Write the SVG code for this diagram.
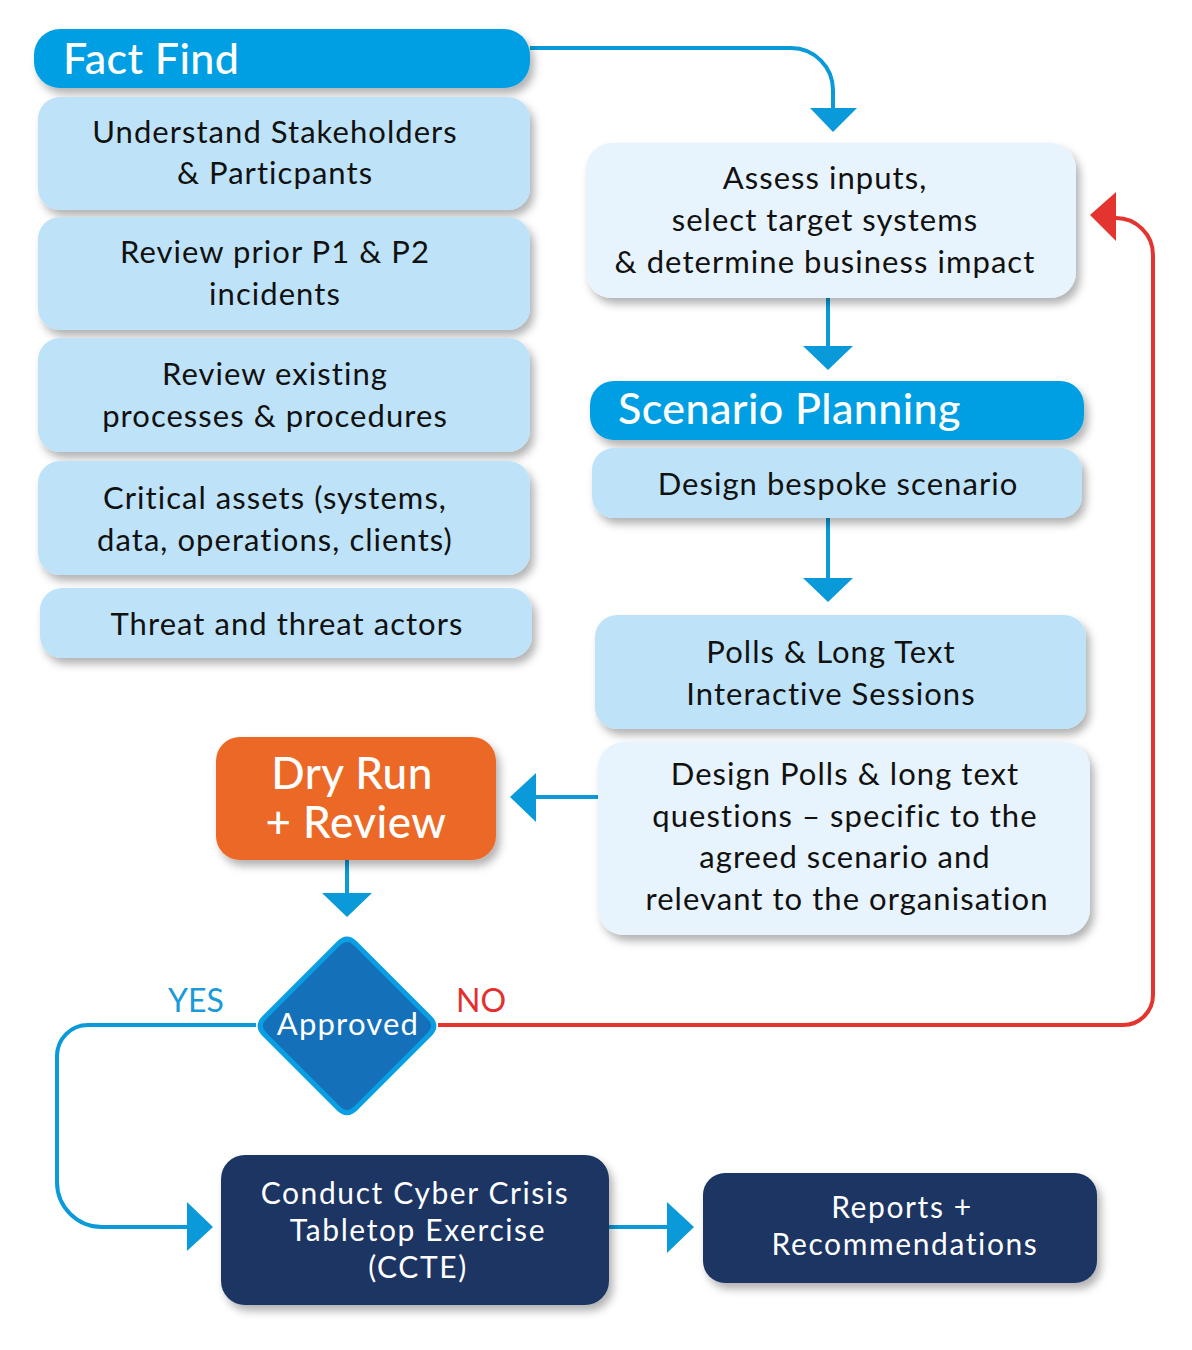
<svg xmlns="http://www.w3.org/2000/svg" width="1192" height="1350" viewBox="0 0 1192 1350">
<defs>
<filter id="sh" x="-10%" y="-20%" width="125%" height="150%">
<feDropShadow dx="4" dy="6" stdDeviation="4" flood-color="#000" flood-opacity="0.3"/>
</filter>
</defs>
<style>
text{font-family:Lato,"Open Sans","Liberation Sans",sans-serif;}
.hdr{fill:#009fe3;filter:url(#sh);}
.lb{fill:#bee3f8;filter:url(#sh);}
.vl{fill:#e8f4fd;filter:url(#sh);}
.nv{fill:#1d3562;filter:url(#sh);}
.ht{fill:#fff;font-size:43px;font-weight:500;letter-spacing:0.4px;}
.bt{fill:#111;font-size:31px;letter-spacing:1.05px;text-anchor:middle;}
.wt{fill:#fff;font-size:30px;letter-spacing:1.6px;text-anchor:middle;}
.dr{fill:#fff;font-size:44px;font-weight:500;letter-spacing:0.5px;text-anchor:middle;}
.ap{fill:#fff;font-size:31px;letter-spacing:1.2px;text-anchor:middle;}
.lbl{font-size:32px;text-anchor:middle;}
.cb{fill:none;stroke:#0a9ad9;stroke-width:4;}
.cr{fill:none;stroke:#e3342f;stroke-width:4;}
.ab{fill:#0a9ad9;}
.ar{fill:#e3342f;}
</style>
<rect width="1192" height="1350" fill="#fff"/>

<g id="connectors">
<path class="cb" d="M 530 48 H 791 A 42 42 0 0 1 833 90 V 110"/>
<polygon class="ab" points="810,108 857,108 833,132"/>
<path class="cb" d="M 828 298 V 348"/>
<polygon class="ab" points="803,346 853,346 828,370"/>
<path class="cb" d="M 828 518 V 580"/>
<polygon class="ab" points="803,578 853,578 828,602"/>
<path class="cb" d="M 598 797 H 534"/>
<polygon class="ab" points="536,773 536,822 510,797"/>
<path class="cb" d="M 347 860 V 895"/>
<polygon class="ab" points="322,893 372,893 347,917"/>
<path class="cb" d="M 256 1025 H 88 A 31 31 0 0 0 57 1056 V 1182 A 45 45 0 0 0 102 1227 H 189"/>
<polygon class="ab" points="187,1202 187,1251 213,1227"/>
<path class="cb" d="M 609 1227 H 669"/>
<polygon class="ab" points="667,1202 667,1253 694,1227"/>
<path class="cr" d="M 438 1025 H 1123 A 30 30 0 0 0 1153 995 V 255 A 37 37 0 0 0 1116 218"/>
<polygon class="ar" points="1116,192 1116,241 1090,215"/>
<text class="lbl" x="196" y="1012" fill="#1a9ad7">YES</text>
<text class="lbl" x="481" y="1012" fill="#e3302f">NO</text>
</g>

<g id="fact-find">
<rect class="hdr" x="34" y="29" width="496" height="59" rx="26"/>
<text class="ht" x="63" y="74">Fact Find</text>
</g>

<g id="stakeholders">
<rect class="lb" x="38" y="97" width="492" height="113" rx="22"/>
<text class="bt" x="275" y="143">Understand Stakeholders</text>
<text class="bt" x="275" y="184">&amp; Particpants</text>
</g>

<g id="incidents">
<rect class="lb" x="38" y="217" width="492" height="113" rx="22"/>
<text class="bt" x="275" y="263">Review prior P1 &amp; P2</text>
<text class="bt" x="275" y="305">incidents</text>
</g>

<g id="processes">
<rect class="lb" x="38" y="338" width="492" height="114" rx="22"/>
<text class="bt" x="275" y="385">Review existing</text>
<text class="bt" x="275" y="427">processes &amp; procedures</text>
</g>

<g id="assets">
<rect class="lb" x="38" y="461" width="492" height="114" rx="22"/>
<text class="bt" x="275" y="509">Critical assets (systems,</text>
<text class="bt" x="275" y="551">data, operations, clients)</text>
</g>

<g id="threats">
<rect class="lb" x="40" y="588" width="492" height="70" rx="22"/>
<text class="bt" x="287" y="635">Threat and threat actors</text>
</g>

<g id="assess">
<rect class="vl" x="586" y="143" width="490" height="155" rx="26"/>
<text class="bt" x="825" y="189">Assess inputs,</text>
<text class="bt" x="825" y="231">select target systems</text>
<text class="bt" x="825" y="273">&amp; determine business impact</text>
</g>

<g id="scenario-planning">
<rect class="hdr" x="590" y="381" width="494" height="59" rx="24"/>
<text class="ht" x="618" y="424">Scenario Planning</text>
</g>

<g id="bespoke">
<rect class="lb" x="592" y="448" width="490" height="70" rx="22"/>
<text class="bt" x="838" y="495">Design bespoke scenario</text>
</g>

<g id="polls">
<rect class="lb" x="595" y="615" width="491" height="114" rx="22"/>
<text class="bt" x="831" y="663">Polls &amp; Long Text</text>
<text class="bt" x="831" y="705">Interactive Sessions</text>
</g>

<g id="design-polls">
<rect class="vl" x="598" y="742" width="492" height="193" rx="26"/>
<text class="bt" x="845" y="785">Design Polls &amp; long text</text>
<text class="bt" x="845" y="827">questions – specific to the</text>
<text class="bt" x="845" y="868">agreed scenario and</text>
<text class="bt" x="847" y="910">relevant to the organisation</text>
</g>

<g id="dry-run">
<rect x="216" y="737" width="280" height="123" rx="24" fill="#ec6726" filter="url(#sh)"/>
<text class="dr" x="352" y="789">Dry Run</text>
<text class="dr" x="356" y="838">+ Review</text>
</g>

<g id="approved">
<path d="M 338.5 943.5 Q 347 935 355.5 943.5 L 429.5 1017.5 Q 438 1026 429.5 1034.5 L 355.5 1108.5 Q 347 1117 338.5 1108.5 L 264.5 1034.5 Q 256 1026 264.5 1017.5 Z" fill="#1470b8" stroke="#0a9fe3" stroke-width="5" stroke-linejoin="round"/>
<text class="ap" x="348" y="1035">Approved</text>
</g>

<g id="ccte">
<rect class="nv" x="221" y="1155" width="388" height="150" rx="24"/>
<text class="wt" x="415" y="1204">Conduct Cyber Crisis</text>
<text class="wt" x="418" y="1241">Tabletop Exercise</text>
<text class="wt" x="418" y="1278">(CCTE)</text>
</g>

<g id="reports">
<rect class="nv" x="703" y="1173" width="394" height="110" rx="22"/>
<text class="wt" x="902" y="1218">Reports +</text>
<text class="wt" x="905" y="1255">Recommendations</text>
</g>
</svg>
